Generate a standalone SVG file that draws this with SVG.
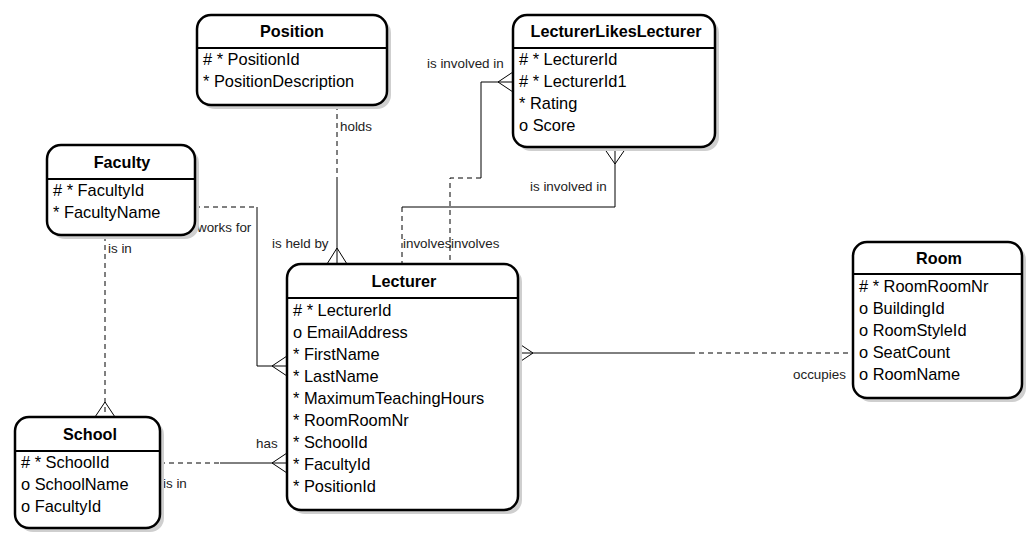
<svg xmlns="http://www.w3.org/2000/svg" width="1033" height="544" viewBox="0 0 1033 544">
<style>
.sh{fill:#cfcfcf;stroke:none}
.box{fill:#fff;stroke:#000;stroke-width:2.5}
.hl{stroke:#000;stroke-width:2}
.title{font-family:"Liberation Sans",Arial,sans-serif;font-size:16.2px;font-weight:bold;text-anchor:middle;fill:#000}
.attr{font-family:"Liberation Sans",Arial,sans-serif;font-size:16.4px;fill:#000}
.lbl{font-family:"Liberation Sans",Arial,sans-serif;font-size:13.4px;fill:#222}
.s{fill:none;stroke:#000;stroke-width:1}
.d{fill:none;stroke:#000;stroke-width:1;stroke-dasharray:5 4}
</style>
<rect width="1033" height="544" fill="#fff"/>
<g id="connectors">
<!-- Position - Lecturer -->
<path class="d" d="M337,105 V180"/>
<path class="s" d="M337,180 V264 M327,264 L337,248 L347,264"/>
<text class="lbl" x="340" y="131">holds</text>
<text class="lbl" x="272" y="248">is held by</text>
<!-- Faculty - Lecturer -->
<path class="d" d="M195,207 H257"/>
<path class="s" d="M257,207 V366 H287 M287,356 L272,366 L287,376"/>
<text class="lbl" x="197" y="232">works for</text>
<!-- Faculty - School -->
<path class="d" d="M105,236 V417"/>
<path class="s" d="M95,417 L105,402 L115,417"/>
<text class="lbl" x="108" y="253">is in</text>
<!-- School - Lecturer -->
<path class="d" d="M160,463 H220"/>
<path class="s" d="M220,463 H287 M287,453 L272,463 L287,473"/>
<text class="lbl" x="256" y="448">has</text>
<text class="lbl" x="163" y="488">is in</text>
<!-- Lecturer - Room -->
<path class="s" d="M518,353 H690 M518,343 L533,353 L518,363"/>
<path class="d" d="M690,353 H853"/>
<text class="lbl" x="793" y="379">occupies</text>
<!-- LLL bottom - Lecturer -->
<path class="s" d="M615,148 V207 H402 M604,148 L615,164 L626,148"/>
<path class="d" d="M402,207 V264"/>
<text class="lbl" x="530" y="191">is involved in</text>
<text class="lbl" x="403" y="248">involves</text>
<!-- LLL left - Lecturer -->
<path class="s" d="M513,82 H481 V178 M513,72 L498,82 L513,92"/>
<path class="d" d="M481,178 H450 V264"/>
<text class="lbl" x="427" y="68">is involved in</text>
<text class="lbl" x="451" y="248">involves</text>
</g>
<g id="Position">
<rect class="sh" x="201" y="19" width="190" height="90" rx="14"/>
<rect class="box" x="197" y="15" width="190" height="90" rx="14"/>
<line class="hl" x1="197" y1="48" x2="387" y2="48"/>
<text class="title" x="292" y="37">Position</text>
<text class="attr" x="203" y="65"># * PositionId</text>
<text class="attr" x="203" y="87">* PositionDescription</text>
</g>
<g id="LecturerLikesLecturer">
<rect class="sh" x="517" y="19" width="202" height="132" rx="14"/>
<rect class="box" x="513" y="15" width="202" height="132" rx="14"/>
<line class="hl" x1="513" y1="48" x2="715" y2="48"/>
<text class="title" x="616" y="37">LecturerLikesLecturer</text>
<text class="attr" x="519" y="65"># * LecturerId</text>
<text class="attr" x="519" y="87"># * LecturerId1</text>
<text class="attr" x="519" y="109">* Rating</text>
<text class="attr" x="519" y="131">o Score</text>
</g>
<g id="Faculty">
<rect class="sh" x="51" y="149" width="148" height="90" rx="14"/>
<rect class="box" x="47" y="145" width="148" height="90" rx="14"/>
<line class="hl" x1="47" y1="179" x2="195" y2="179"/>
<text class="title" x="122" y="168">Faculty</text>
<text class="attr" x="53" y="196"># * FacultyId</text>
<text class="attr" x="53" y="218">* FacultyName</text>
</g>
<g id="Lecturer">
<rect class="sh" x="291" y="268" width="231" height="246" rx="14"/>
<rect class="box" x="287" y="264" width="231" height="246" rx="14"/>
<line class="hl" x1="287" y1="298" x2="518" y2="298"/>
<text class="title" x="404" y="287">Lecturer</text>
<text class="attr" x="293" y="316"># * LecturerId</text>
<text class="attr" x="293" y="338">o EmailAddress</text>
<text class="attr" x="293" y="360">* FirstName</text>
<text class="attr" x="293" y="382">* LastName</text>
<text class="attr" x="293" y="404">* MaximumTeachingHours</text>
<text class="attr" x="293" y="426">* RoomRoomNr</text>
<text class="attr" x="293" y="448">* SchoolId</text>
<text class="attr" x="293" y="470">* FacultyId</text>
<text class="attr" x="293" y="492">* PositionId</text>
</g>
<g id="Room">
<rect class="sh" x="857" y="246" width="169" height="156" rx="14"/>
<rect class="box" x="853" y="242" width="169" height="156" rx="14"/>
<line class="hl" x1="853" y1="274" x2="1022" y2="274"/>
<text class="title" x="939" y="264">Room</text>
<text class="attr" x="859" y="292"># * RoomRoomNr</text>
<text class="attr" x="859" y="314">o BuildingId</text>
<text class="attr" x="859" y="336">o RoomStyleId</text>
<text class="attr" x="859" y="358">o SeatCount</text>
<text class="attr" x="859" y="380">o RoomName</text>
</g>
<g id="School">
<rect class="sh" x="19" y="421" width="145" height="111" rx="14"/>
<rect class="box" x="15" y="417" width="145" height="111" rx="14"/>
<line class="hl" x1="15" y1="451" x2="160" y2="451"/>
<text class="title" x="90" y="440">School</text>
<text class="attr" x="21" y="468"># * SchoolId</text>
<text class="attr" x="21" y="490">o SchoolName</text>
<text class="attr" x="21" y="512">o FacultyId</text>
</g>
</svg>
